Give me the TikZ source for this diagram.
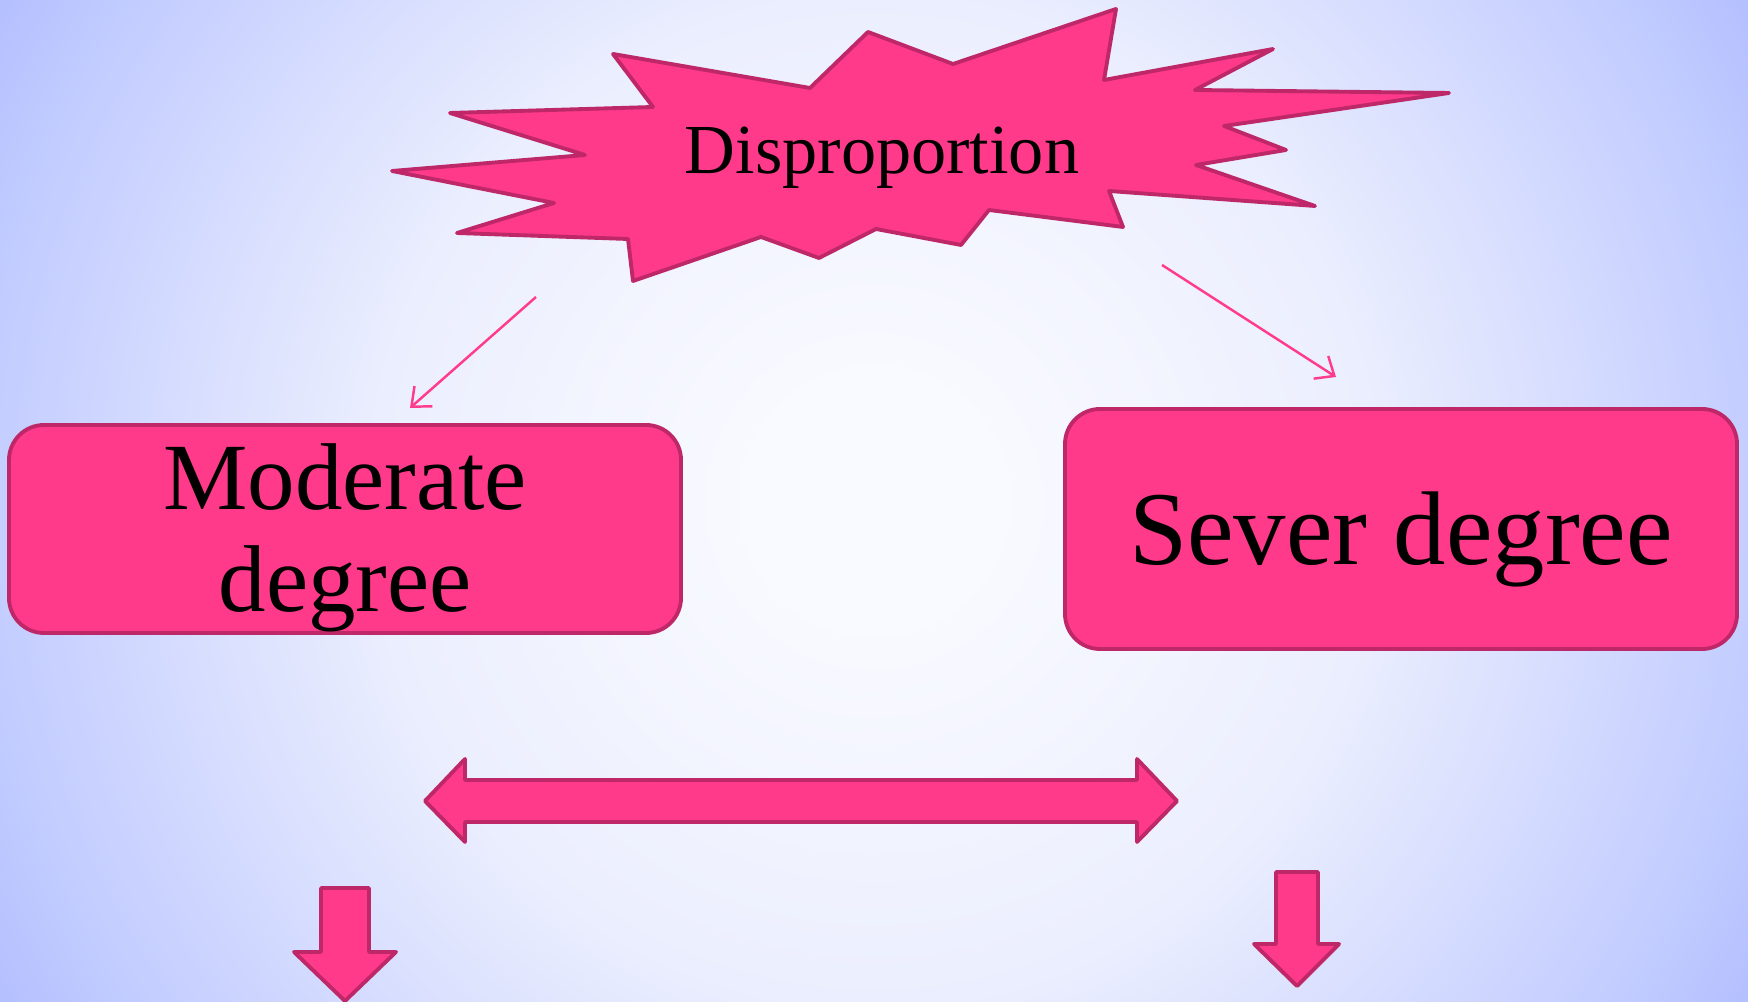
\documentclass[tikz,border=0pt]{standalone}
\usepackage{fontspec}
\setmainfont{Liberation Serif}
\usetikzlibrary{arrows.meta,positioning}
\definecolor{burstpink}{RGB}{255,58,138}
\definecolor{burstedge}{RGB}{190,40,104}
\definecolor{linkpink}{RGB}{255,60,140}
\definecolor{bgcore}{RGB}{249,250,255}
\definecolor{bgmid}{RGB}{235,238,254}
\definecolor{bgrim}{RGB}{196,206,255}
\definecolor{bgcorner}{RGB}{180,192,255}
\pgfdeclareradialshading{bgglow}{\pgfpoint{0bp}{0bp}}{color(0bp)=(bgcore); color(3bp)=(bgcore); color(12.5bp)=(bgmid); color(21.7bp)=(bgrim); color(25bp)=(bgcorner); color(50bp)=(bgcorner)}

\begin{document}
\begin{tikzpicture}[x=0.1mm,y=-0.1mm,>={Straight Barb[length=1.6mm,width=2.7mm]}]
		\tikzstyle{every node}=[font=\fontsize{20}{24}\selectfont];
		\tikzstyle{degbox}=[draw=burstedge,fill=burstpink,line width=1.1pt,rounded corners=3.5mm,minimum width=67.2mm,align=center,inner sep=0pt];
		\tikzstyle{link}=[->,linkpink,line width=0.7pt];
		\tikzstyle{blockarrow}=[draw=burstedge,fill=burstpink,line width=1.1pt,line join=round];

		\useasboundingbox (0,0) rectangle (1748,1002);
		\begin{scope}
			\clip (0,0) rectangle (1748,1002);
			\shade[shading=bgglow] (874,501) circle[radius=100.7mm];
		\end{scope}

		\draw[blockarrow] (613,54) -- (810,88) -- (868,32) -- (953,64) -- (1116,9) -- (1104,80) -- (1273,49) -- (1195,90) -- (1449,93) -- (1224,126) -- (1286,150) -- (1196,165) -- (1315,206) -- (1109,191) -- (1123,227) -- (989,210) -- (961,245) -- (876,229) -- (819,258) -- (761,237) -- (633,281) -- (628,239) -- (457,233) -- (554,203) -- (392,171) -- (585,155) -- (450,113) -- (653,107) -- cycle;
		\node (burst) at (882,158) {Disproportion};

		\node[degbox,minimum height=20.8mm,font=\fontsize{27}{29}\selectfont] (moderate) at (345,529) {\rule{0pt}{24pt}Moderate\\degree};
		\node[degbox,minimum height=24mm,text height=8mm,text depth=0.8mm,font=\fontsize{29.8}{34}\selectfont] (sever) at (1401,529) {Sever degree};

		\coordinate (burst sw) at (536,297);
		\coordinate (moderate top) at (410,408);
		\coordinate (burst se) at (1162,265);
		\coordinate (sever top) at (1336,377);
		\draw[link] (burst sw) -- (moderate top);
		\draw[link] (burst se) -- (sever top);

		\draw[blockarrow] (425,801) -- (465,759) --++ (0,21) -- (1137,780) --++ (0,-21) -- (1177,801) -- (1137,842) --++ (0,-20) -- (465,822) --++ (0,20) -- cycle;
		\draw[blockarrow] (321,888) -- (369,888) --++ (0,64) --++ (27,0) -- (345,1001) -- (294,952) --++ (27,0) -- cycle;
		\draw[blockarrow] (1276,872) -- (1318,872) --++ (0,72) --++ (21,0) -- (1297,986) -- (1254,944) --++ (22,0) -- cycle;
	\end{tikzpicture}
\end{document}
